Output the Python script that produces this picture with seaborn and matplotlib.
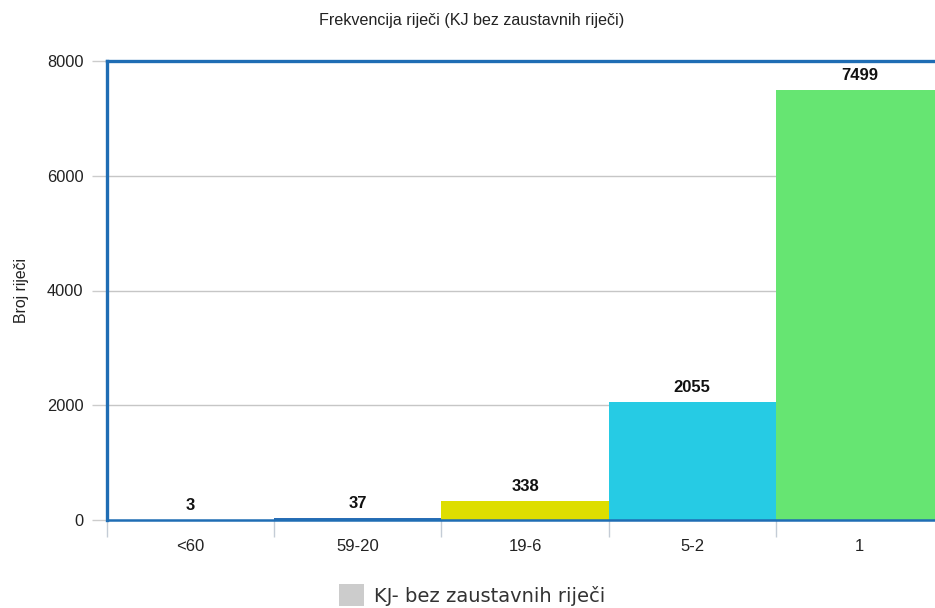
import matplotlib
matplotlib.use("Agg")
import matplotlib.pyplot as plt
from matplotlib.patches import Patch
from matplotlib.ticker import FixedLocator
import seaborn as sns
import pandas as pd

categories = ["<60", "59-20", "19-6", "5-2", "1"]
counts = [3, 37, 338, 2055, 7499]
bar_colors = ["#2a6db5", "#2a6db5", "#dede00", "#26cbe4", "#66e572"]
y_ticks = [0, 2000, 4000, 6000, 8000]
series_name = "KJ- bez zaustavnih riječi"

sns.set_theme(style="white")
plt.rcParams["font.family"] = ["Liberation Sans", "DejaVu Sans"]

df = pd.DataFrame({"kategorija": categories, "broj": counts})

fig = plt.figure(figsize=(9.35, 6.08), dpi=100)
ax = fig.add_axes([107 / 935, 88 / 608, 836 / 935, 459 / 608])

sns.barplot(data=df, x="kategorija", y="broj", hue="kategorija",
            palette=bar_colors, width=1.0, saturation=1, legend=False,
            linewidth=0, edgecolor="none", ax=ax, zorder=2)

ax.set_xlim(-0.5, len(categories) - 0.5)
ax.set_ylim(0, 8000)
ax.set_yticks(y_ticks)
ax.set_yticklabels([str(v) for v in y_ticks], fontsize=11.8, color="#222222")
ax.set_xticks(range(len(categories)))
ax.set_xticklabels(categories, fontsize=12, color="#222222")
ax.xaxis.set_minor_locator(FixedLocator([i - 0.5 for i in range(len(categories) + 1)]))

ax.tick_params(axis="x", which="major", length=0, pad=14)
ax.tick_params(axis="x", which="minor", length=12, width=1, color="#c4ccd6",
               direction="out", bottom=True)
ax.tick_params(axis="y", which="major", length=11, width=1, color="#cccccc",
               direction="out", left=True, pad=6)

for v in y_ticks[1:-1]:
    ax.axhline(v, color="#c6c6c6", linewidth=1, zorder=1)

for name, sp in ax.spines.items():
    sp.set_color("#1f6db4")
    sp.set_visible(True)
    sp.set_zorder(3)
ax.spines["left"].set_linewidth(2.4)
ax.spines["top"].set_linewidth(2.4)
ax.spines["bottom"].set_linewidth(1.8)
ax.spines["right"].set_linewidth(2.4)

for i, v in enumerate(counts):
    ax.annotate(str(v), (i, v), xytext=(0, 5), textcoords="offset points",
                ha="center", va="bottom", fontsize=12, fontweight="bold",
                color="#111111")

ax.set_xlabel("")
ax.set_ylabel("Broj riječi", fontsize=11.4, color="#222222", labelpad=13)

fig.text(472 / 935, 1 - 20 / 608, "Frekvencija riječi (KJ bez zaustavnih riječi)",
         ha="center", va="center", fontsize=11.6, color="#222222")

fig.legend(handles=[Patch(facecolor="#cccccc", edgecolor="none")],
           labels=[series_name], loc="center", bbox_to_anchor=(472 / 935, 1 - 595 / 608),
           frameon=False, handlelength=1.3, handleheight=1.3, handletextpad=0.5,
           prop={"family": "DejaVu Sans", "size": 14}, labelcolor="#333333")

fig.savefig("out.png", dpi=100)
